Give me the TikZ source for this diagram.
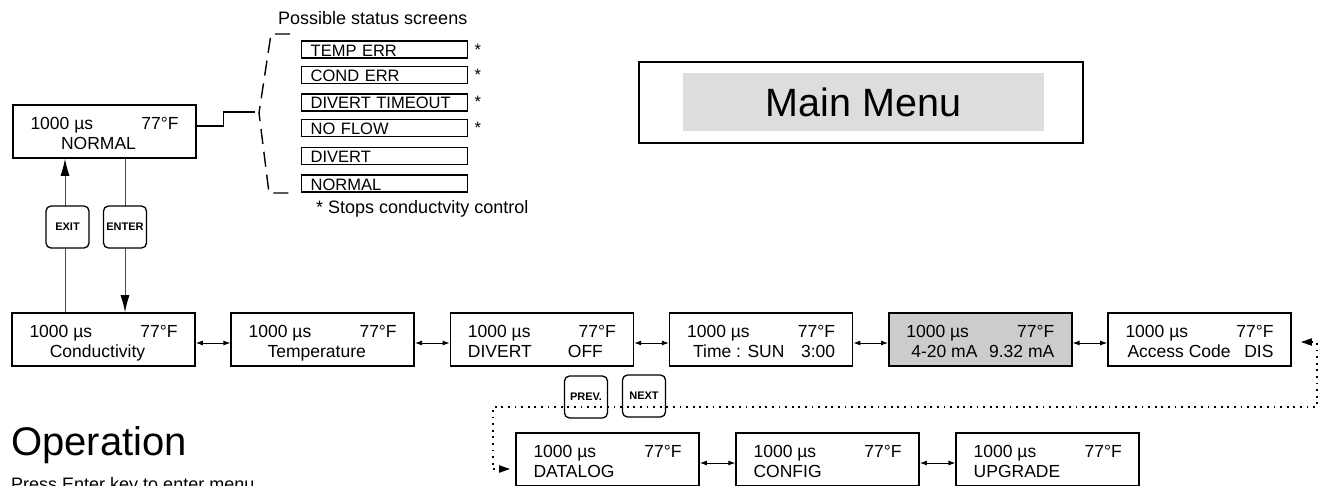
\documentclass[tikz,border=0pt]{standalone}
\usepackage{fontspec}
\setmainfont{Liberation Sans}
\usepackage{tikz}
\usetikzlibrary{positioning,arrows.meta}

\newcommand{\lcdfont}{\fontsize{17.5pt}{20pt}\selectfont}
\newcommand{\statfont}{\fontsize{16.5pt}{19pt}\selectfont}
\newcommand{\notefont}{\fontsize{18pt}{21pt}\selectfont}
\newcommand{\lcdtext}[1]{\parbox[t]{148pt}{1000 µs\hfill 77°F\\#1}}

\begin{document}
\begin{tikzpicture}[
  x=1pt, y=-1pt,
  lcd/.style={rectangle, draw, line width=1.6pt, minimum width=183pt,
              inner xsep=0pt, inner ysep=4pt, text height=20pt, text depth=25pt,
              font=\lcdfont},
  stat/.style={rectangle, draw, line width=1.4pt, text width=148pt,
               inner xsep=9pt, inner ysep=0.5pt, text height=14.5pt, text depth=1.5pt,
               align=left, anchor=west, font=\statfont},
  ast/.style={inner sep=0pt, font=\statfont},
  note/.style={inner sep=0pt, font=\notefont},
  keycap/.style={rectangle, draw, rounded corners=5pt, fill=white, line width=1.3pt,
                 minimum width=43pt, minimum height=42pt, inner sep=0pt,
                 font=\fontsize{11pt}{12pt}\selectfont\bfseries},
  dbl/.style={{Latex[length=7pt,width=5pt]}-{Latex[length=7pt,width=5pt]}, line width=0.9pt},
  keyline/.style={draw=black!70, line width=0.9pt, -{Latex[length=17pt,width=9pt,color=black]}},
  dotlink/.style={line width=1.8pt, dash pattern=on 1.8pt off 4.8pt,
                  {Triangle[length=11pt,width=7pt]}-{Triangle[length=11pt,width=7pt]}},
  bracket/.style={line width=1.4pt, dash pattern=on 15pt off 8pt},
  link/.style={line width=1.2pt}
]
  \useasboundingbox (0,0) rectangle (1324,485);
  \clip (0,0) rectangle (1324,485);

  % status screen
  \node[lcd] (normal) at (104.5,131.5) {\lcdtext{\hspace*{\fill}NORMAL\hfill\hspace*{12pt}}};

  % menu screens
  \node[lcd] (cond) at (103.5,339.5) {\lcdtext{\hspace*{\fill}Conductivity\hfill\hspace*{12pt}}};
  \node[lcd, right=34.6pt of cond] (temp) {\lcdtext{\hspace*{\fill}Temperature\hfill\hspace*{12pt}}};
  \node[lcd, right=34.6pt of temp] (divert) {\lcdtext{DIVERT\hfill OFF\hspace*{13pt}}};
  \node[lcd, right=34.6pt of divert] (clock) {\lcdtext{\hspace*{6pt}Time : SUN\hfill 3:00}};
  \node[lcd, fill=gray!40, right=34.6pt of clock] (analog) {\lcdtext{\hspace*{5pt}4-20 mA\hfill 9.32 mA}};
  \node[lcd, right=34.6pt of analog] (access) {\lcdtext{\hspace*{2pt}Access Code\hfill DIS}};

  \node[lcd] (datalog) at (607.5,459.5) {\lcdtext{DATALOG}};
  \node[lcd, right=35.5pt of datalog] (config) {\lcdtext{CONFIG}};
  \node[lcd, right=35.5pt of config] (upgrade) {\lcdtext{UPGRADE}};

  \draw[dbl] ([yshift=-3.5pt]cond.east) -- ([yshift=-3.5pt]temp.west);
  \draw[dbl] ([yshift=-3.5pt]temp.east) -- ([yshift=-3.5pt]divert.west);
  \draw[dbl] ([yshift=-3.5pt]divert.east) -- ([yshift=-3.5pt]clock.west);
  \draw[dbl] ([yshift=-3.5pt]clock.east) -- ([yshift=-3.5pt]analog.west);
  \draw[dbl] ([yshift=-3.5pt]analog.east) -- ([yshift=-3.5pt]access.west);
  \draw[dbl] ([yshift=-3.5pt]datalog.east) -- ([yshift=-3.5pt]config.west);
  \draw[dbl] ([yshift=-3.5pt]config.east) -- ([yshift=-3.5pt]upgrade.west);

  % possible status screens
  \node[note, anchor=base west] (poss) at (278,24) {Possible status screens};
  \node[stat] (s1) at (301,49.5) {TEMP ERR};
  \node[stat, below=7pt of s1] (s2) {COND ERR};
  \node[stat, below=9pt of s2] (s3) {DIVERT TIMEOUT};
  \node[stat, below=7pt of s3] (s4) {NO FLOW};
  \node[stat, below=10pt of s4] (s5) {DIVERT};
  \node[stat, below=9pt of s5] (s6) {NORMAL};
  \node[ast, right=6pt of s1] (a1) {*};
  \node[ast, right=6pt of s2] (a2) {*};
  \node[ast, right=6pt of s3] (a3) {*};
  \node[ast, right=6pt of s4] (a4) {*};
  \node[note, anchor=base west] (stops) at (316,213) {* Stops conductvity control};

  \draw[bracket] (290,34) -- (271,34) -- (259,113) -- (269,193) -- (290,193);
  \coordinate (brk) at (255,112);
  \draw[link] ([yshift=5.5pt]normal.east) -- ++(27,0) |- (brk);

  % title
  \node[draw, line width=2pt, minimum width=444pt, minimum height=81pt] (menu) at (861,102.5) {};
  \node[fill=gray!27, minimum width=361pt, minimum height=58pt, inner sep=0pt,
        font=\fontsize{39.5pt}{44pt}\selectfont] (title) at (863.5,102) {Main Menu};

  % keys
  \draw[keyline] ([xshift=-38.5pt]cond.north) -- ([xshift=-39.5pt]normal.south);
  \draw[keyline] ([xshift=20.5pt]normal.south) -- ([xshift=21.5pt]cond.north);
  \node[keycap] (exit) at (67.5,227) {EXIT};
  \node[keycap] (enter) at (125,227) {ENTER};
  \node[keycap] (prev) at (586,397) {PREV.};
  \node[keycap] (next) at (644,396) {NEXT};

  \draw[dotlink] ([xshift=9pt,yshift=-2.5pt]access.east) -| (1317,407) -| (493,469)
    -- ([xshift=-5pt,yshift=-9.5pt]datalog.west);

  \node[anchor=base west, inner sep=0pt, font=\fontsize{40pt}{46pt}\selectfont] (oper) at (11,455) {Operation};
  \node[note, anchor=base west] (press) at (11,490) {Press Enter key to enter menu};
\end{tikzpicture}
\end{document}
